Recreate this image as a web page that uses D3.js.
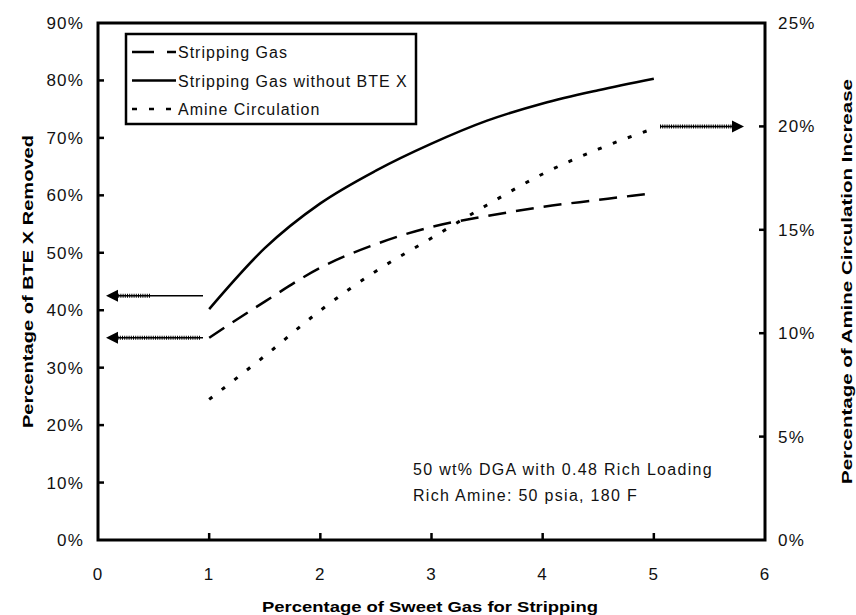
<!DOCTYPE html>
<html>
<head>
<meta charset="utf-8">
<script src="https://cdn.jsdelivr.net/npm/d3@7"></script>
<style>
  html, body { margin: 0; padding: 0; background: #fff; }
  svg { display: block; font-family: "Liberation Sans", Arial, sans-serif; }
  .tick-label { font-size: 17px; fill: #111; letter-spacing: 1.2px; }
  .axis-title { font-size: 15.5px; font-weight: bold; fill: #000; }
  .legend-text { font-size: 16px; fill: #111; letter-spacing: 1px; }
  .note { font-size: 16px; fill: #111; letter-spacing: 1.3px; }
</style>
</head>
<body>
<div id="chart"></div>
<script>
  // ---- data
  var sweetGas = [1, 1.5, 2, 2.5, 3, 3.5, 4, 4.5, 5];
  var strippingGas = [0.352, 0.415, 0.474, 0.515, 0.545, 0.564, 0.580, 0.592, 0.604];
  var strippingNoBtex = [0.402, 0.508, 0.586, 0.643, 0.690, 0.730, 0.760, 0.783, 0.803];
  var amineCirculation = [0.068, 0.089, 0.111, 0.130, 0.146, 0.162, 0.177, 0.189, 0.199];

  var xTicks = [0, 1, 2, 3, 4, 5, 6];
  var leftTicks = [0, 0.1, 0.2, 0.3, 0.4, 0.5, 0.6, 0.7, 0.8, 0.9];
  var rightTicks = [0, 0.05, 0.1, 0.15, 0.2, 0.25];

  var legendNames = ['Stripping Gas', 'Stripping Gas without BTE X', 'Amine Circulation'];
  var noteLines = ['50 wt% DGA with 0.48 Rich Loading', 'Rich Amine: 50 psia, 180 F'];

(function () {
  var width = 856, height = 615;
  var pLeft = 98, pRight = 765, pTop = 23, pBottom = 540;

  var svg = d3.select('#chart').append('svg')
    .attr('width', width)
    .attr('height', height);

  var x = d3.scaleLinear().domain([0, 6]).range([pLeft, pRight]);
  var yL = d3.scaleLinear().domain([0, 0.9]).range([pBottom, pTop]);
  var yR = d3.scaleLinear().domain([0, 0.25]).range([pBottom, pTop]);

  var pct = d3.format('.0%');

  //---- frame
  svg.append('rect')
    .attr('x', pLeft).attr('y', pTop)
    .attr('width', pRight - pLeft).attr('height', pBottom - pTop)
    .attr('fill', 'none').attr('stroke', '#000').attr('stroke-width', 3);

  //---- ticks (inward)
  var tickG = svg.append('g').attr('stroke', '#000').attr('stroke-width', 2.5);
  tickG.selectAll('line.xt').data(xTicks.slice(1, -1)).enter().append('line')
    .attr('x1', function (d) { return x(d); }).attr('x2', function (d) { return x(d); })
    .attr('y1', pBottom).attr('y2', pBottom - 7);
  tickG.selectAll('line.lt').data(leftTicks.slice(1, -1)).enter().append('line')
    .attr('x1', pLeft).attr('x2', pLeft + 6)
    .attr('y1', function (d) { return yL(d); }).attr('y2', function (d) { return yL(d); });
  tickG.selectAll('line.rt').data(rightTicks.slice(1, -1)).enter().append('line')
    .attr('x1', pRight).attr('x2', pRight - 6)
    .attr('y1', function (d) { return yR(d); }).attr('y2', function (d) { return yR(d); });

  //---- tick labels
  svg.selectAll('text.xl').data(xTicks).enter().append('text')
    .attr('class', 'tick-label')
    .attr('x', function (d) { return x(d); })
    .attr('y', 580)
    .attr('text-anchor', 'middle')
    .text(function (d) { return d; });

  svg.selectAll('text.ll').data(leftTicks).enter().append('text')
    .attr('class', 'tick-label')
    .attr('x', 84)
    .attr('y', function (d) { return yL(d) + 6; })
    .attr('text-anchor', 'end')
    .text(function (d) { return pct(d); });

  svg.selectAll('text.rl').data(rightTicks).enter().append('text')
    .attr('class', 'tick-label')
    .attr('x', 778)
    .attr('y', function (d) { return yR(d) + 6; })
    .text(function (d) { return pct(d); });

  //---- axis titles
  svg.append('text').attr('class', 'axis-title')
    .attr('x', 430).attr('y', 612).attr('text-anchor', 'middle')
    .attr('textLength', 336).attr('lengthAdjust', 'spacingAndGlyphs')
    .text('Percentage of Sweet Gas for Stripping');

  svg.append('text').attr('class', 'axis-title')
    .attr('transform', 'translate(33,' + ((pTop + pBottom) / 2) + ') rotate(-90)')
    .attr('text-anchor', 'middle')
    .attr('textLength', 293).attr('lengthAdjust', 'spacingAndGlyphs')
    .text('Percentage of BTE X Removed');

  svg.append('text').attr('class', 'axis-title')
    .attr('transform', 'translate(852,' + ((pTop + pBottom) / 2) + ') rotate(-90)')
    .attr('text-anchor', 'middle')
    .style('font-size', '15px')
    .attr('textLength', 405).attr('lengthAdjust', 'spacingAndGlyphs')
    .text('Percentage of Amine Circulation Increase');

  //---- series
  var lineL = d3.line()
    .x(function (d, i) { return x(sweetGas[i]); })
    .y(function (d) { return yL(d); })
    .curve(d3.curveMonotoneX);
  var lineR = d3.line()
    .x(function (d, i) { return x(sweetGas[i]); })
    .y(function (d) { return yR(d); })
    .curve(d3.curveMonotoneX);

  svg.append('path').attr('d', lineL(strippingGas))
    .attr('fill', 'none').attr('stroke', '#000')
    .attr('stroke-width', 2.5).attr('stroke-dasharray', '18,10');
  svg.append('path').attr('d', lineL(strippingNoBtex))
    .attr('fill', 'none').attr('stroke', '#000')
    .attr('stroke-width', 2.5);
  svg.append('path').attr('d', lineR(amineCirculation))
    .attr('fill', 'none').attr('stroke', '#000')
    .attr('stroke-width', 3).attr('stroke-dasharray', '4,12');

  //---- arrows pointing to the axes
  function arrow(x1, x2, y, hatchFrom) {
    var dir = x2 < x1 ? -1 : 1;
    var g = svg.append('g');
    g.append('line')
      .attr('x1', x1).attr('x2', x2 - dir * 8)
      .attr('y1', y).attr('y2', y)
      .attr('stroke', '#000').attr('stroke-width', 1.5);
    // hatched part near the head
    g.append('line')
      .attr('x1', hatchFrom).attr('x2', x2 - dir * 8)
      .attr('y1', y).attr('y2', y)
      .attr('stroke', '#000').attr('stroke-width', 4)
      .attr('stroke-dasharray', '1,1.2');
    g.append('path')
      .attr('d', 'M' + x2 + ',' + y + 'L' + (x2 - dir * 12) + ',' + (y - 6) +
        'L' + (x2 - dir * 12) + ',' + (y + 6) + 'Z')
      .attr('fill', '#000');
  }
  arrow(203, 106, yL(0.425), 150);
  arrow(203, 106, yL(strippingGas[0]), 200);
  arrow(660, 744, yR(0.2), 660);

  //---- legend
  var lg = svg.append('g');
  lg.append('rect')
    .attr('x', 126).attr('y', 34).attr('width', 290).attr('height', 90)
    .attr('fill', '#fff').attr('stroke', '#000').attr('stroke-width', 2.5);
  var legendDash = ['22,13', null, '5,12'];
  legendNames.forEach(function (name, i) {
    var yy = 52 + i * 28.5;
    lg.append('line')
      .attr('x1', 132).attr('x2', 176).attr('y1', yy).attr('y2', yy)
      .attr('stroke', '#000').attr('stroke-width', 2.5)
      .attr('stroke-dasharray', legendDash[i]);
    lg.append('text').attr('class', 'legend-text')
      .attr('x', 178).attr('y', yy + 6)
      .text(name);
  });

  //---- note
  svg.selectAll('text.note').data(noteLines).enter().append('text')
    .attr('class', 'note')
    .attr('x', 413)
    .attr('y', function (d, i) { return 475 + i * 26; })
    .text(function (d) { return d; });
})();
</script>
</body>
</html>
